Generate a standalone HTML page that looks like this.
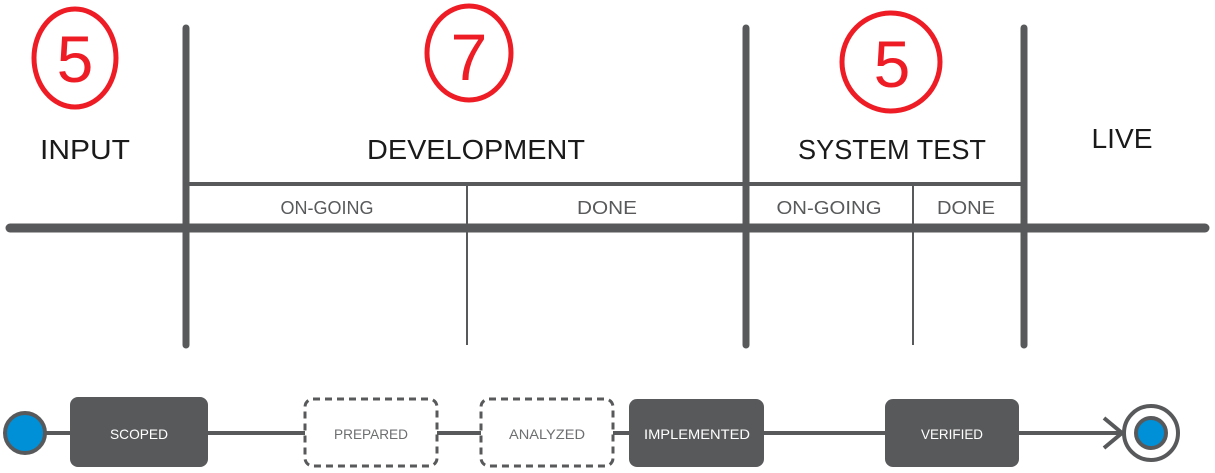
<!DOCTYPE html>
<html><head><meta charset="utf-8"><style>
html,body{margin:0;padding:0;background:#fff;}
svg{display:block;}
text{font-family:"Liberation Sans",sans-serif;}
</style></head><body>
<svg width="1215" height="473" viewBox="0 0 1215 473" xmlns="http://www.w3.org/2000/svg">
<g stroke="#58595b" stroke-linecap="round" fill="none">
  <line x1="10" y1="228" x2="1205" y2="228" stroke-width="9"/>
  <line x1="186" y1="28" x2="186" y2="345" stroke-width="7"/>
  <line x1="746" y1="28" x2="746" y2="345" stroke-width="7"/>
  <line x1="1024" y1="28" x2="1024" y2="345" stroke-width="7"/>
  <line x1="186" y1="184" x2="1024" y2="184" stroke-width="4" stroke-linecap="butt"/>
  <line x1="467" y1="185" x2="467" y2="345" stroke-width="2" stroke-linecap="butt"/>
  <line x1="913" y1="185" x2="913" y2="345" stroke-width="2" stroke-linecap="butt"/>
</g>
<g fill="none" stroke="#ee1c25" stroke-width="5">
  <ellipse cx="75" cy="58" rx="41" ry="49"/>
  <ellipse cx="469" cy="53" rx="42" ry="47"/>
  <ellipse cx="891" cy="62" rx="49" ry="49"/>
</g>
<g fill="#ee1c25" font-size="66" text-anchor="middle">
  <text x="75" y="82">5</text>
  <text x="469" y="80">7</text>
  <text x="892" y="87">5</text>
</g>
<g fill="#1a1a1a" font-size="28" text-anchor="middle">
  <text x="85" y="159" textLength="90" lengthAdjust="spacingAndGlyphs">INPUT</text>
  <text x="476" y="159" textLength="218" lengthAdjust="spacingAndGlyphs">DEVELOPMENT</text>
  <text x="892" y="159" textLength="188" lengthAdjust="spacingAndGlyphs">SYSTEM TEST</text>
  <text x="1122" y="148" textLength="61" lengthAdjust="spacingAndGlyphs">LIVE</text>
</g>
<g fill="#58595b" font-size="18" text-anchor="middle">
  <text x="327" y="214" textLength="93" lengthAdjust="spacingAndGlyphs">ON-GOING</text>
  <text x="607" y="214" textLength="60" lengthAdjust="spacingAndGlyphs">DONE</text>
  <text x="829" y="214" textLength="105" lengthAdjust="spacingAndGlyphs">ON-GOING</text>
  <text x="966" y="214" textLength="58" lengthAdjust="spacingAndGlyphs">DONE</text>
</g>
<!-- flow -->
<line x1="40" y1="433" x2="1128" y2="433" stroke="#58595b" stroke-width="4"/>
<polyline points="1104,418 1122,433 1104,448" fill="none" stroke="#58595b" stroke-width="4"/>
<circle cx="25" cy="433" r="20" fill="#0090d8" stroke="#58595b" stroke-width="4"/>
<rect x="70" y="397" width="138" height="70" rx="8" fill="#58595b"/>
<rect x="305" y="399" width="132" height="67" rx="8" fill="#fff" stroke="#58595b" stroke-width="3" stroke-dasharray="7,5"/>
<rect x="481" y="399" width="132" height="67" rx="8" fill="#fff" stroke="#58595b" stroke-width="3" stroke-dasharray="7,5"/>
<rect x="629" y="399" width="135" height="68" rx="8" fill="#58595b"/>
<rect x="885" y="399" width="134" height="68" rx="8" fill="#58595b"/>
<circle cx="1151" cy="433" r="27" fill="#fff" stroke="#58595b" stroke-width="4"/>
<circle cx="1151" cy="433" r="15" fill="#0090d8" stroke="#58595b" stroke-width="4"/>
<g font-size="14" text-anchor="middle">
  <text x="139" y="439" fill="#fff" textLength="58" lengthAdjust="spacingAndGlyphs">SCOPED</text>
  <text x="371" y="439" fill="#6d6e70" textLength="74" lengthAdjust="spacingAndGlyphs">PREPARED</text>
  <text x="547" y="439" fill="#6d6e70" textLength="76" lengthAdjust="spacingAndGlyphs">ANALYZED</text>
  <text x="697" y="439" fill="#fff" textLength="106" lengthAdjust="spacingAndGlyphs">IMPLEMENTED</text>
  <text x="952" y="439" fill="#fff" textLength="62" lengthAdjust="spacingAndGlyphs">VERIFIED</text>
</g>
</svg>
</body></html>
